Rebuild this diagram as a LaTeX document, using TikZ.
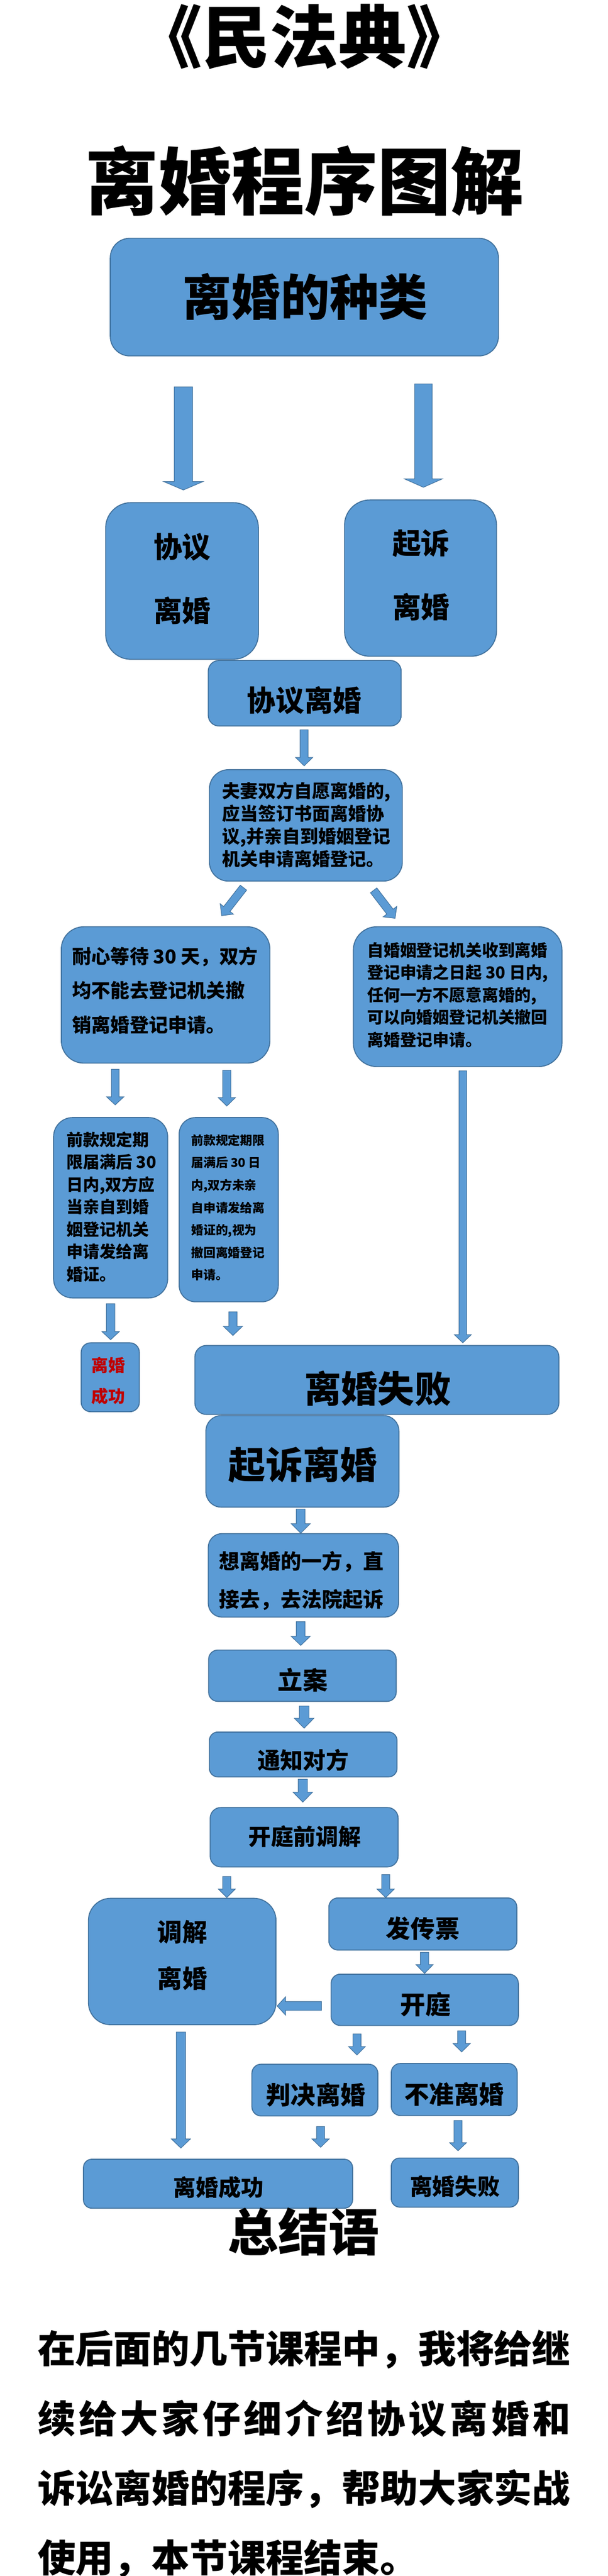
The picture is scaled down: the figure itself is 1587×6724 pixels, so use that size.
\documentclass[tikz,border=0pt]{standalone}
\usepackage{fontspec}
\setmainfont{Noto Sans CJK SC}
\usepackage{tikz}
\usetikzlibrary{calc}
\definecolor{boxblue}{RGB}{91,155,213}
\definecolor{boxedge}{RGB}{65,113,156}
\definecolor{okred}{RGB}{192,0,0}

% block arrow: tail, tip, half shaft, half head, head length
\newcommand{\blockarrow}[5]{%
  \coordinate (ba) at ($(#2)!#5!(#1)$);
  \draw[flow] ($(#1)!#3!90:(#2)$) -- ($(ba)!#3!90:(#2)$) -- ($(ba)!#4!90:(#2)$) -- (#2)
    -- ($(ba)!#4!-90:(#2)$) -- ($(ba)!#3!-90:(#2)$) -- ($(#1)!#3!-90:(#2)$) -- cycle;
}

\begin{document}
\begin{tikzpicture}[x=1pt,y=1pt,yscale=-1,xscale=1,
  panel/.style={draw=boxedge, fill=boxblue, line width=2.5pt, inner sep=0pt},
  flow/.style={draw=boxedge, fill=boxblue, line width=1.5pt},
  txt/.style 2 args={inner sep=0pt, align=left, font={\fontsize{#1}{#2}\selectfont\bfseries}}]
\path[use as bounding box, fill=white] (0,0) rectangle (1587,6724);

%Rounded Rect [id:kinds]
\node[panel, rounded corners=51pt, minimum width=1014pt, minimum height=307pt] (kinds) at (795,775.5) {};
%Rounded Rect [id:agreeL]
\node[panel, rounded corners=66pt, minimum width=399pt, minimum height=409pt] (agreeL) at (475.5,1516.5) {};
%Rounded Rect [id:suitR]
\node[panel, rounded corners=66pt, minimum width=397pt, minimum height=408pt] (suitR) at (1098.5,1509) {};
%Rounded Rect [id:agree]
\node[panel, rounded corners=28pt, minimum width=504pt, minimum height=171pt] (agree) at (796,1809.5) {};
%Rounded Rect [id:couple]
\node[panel, rounded corners=50pt, minimum width=504pt, minimum height=291pt] (couple) at (799,2154.5) {};
%Rounded Rect [id:wait]
\node[panel, rounded corners=59pt, minimum width=545pt, minimum height=356pt] (wait) at (432.5,2597) {};
%Rounded Rect [id:withdraw]
\node[panel, rounded corners=61pt, minimum width=545pt, minimum height=365pt] (withdraw) at (1195.5,2601.5) {};
%Rounded Rect [id:expireL]
\node[panel, rounded corners=50pt, minimum width=298pt, minimum height=471pt] (expireL) at (289,3152.5) {};
%Rounded Rect [id:expireM]
\node[panel, rounded corners=43pt, minimum width=259pt, minimum height=481pt] (expireM) at (597.5,3157.5) {};
%Rounded Rect [id:okSmall]
\node[panel, rounded corners=25pt, minimum width=152pt, minimum height=180pt] (okSmall) at (288,3595) {};
%Rounded Rect [id:failBig]
\node[panel, rounded corners=30pt, minimum width=951pt, minimum height=180pt] (failBig) at (984.5,3602) {};
%Rounded Rect [id:suit]
\node[panel, rounded corners=40pt, minimum width=504pt, minimum height=239pt] (suit) at (790,3814.5) {};
%Rounded Rect [id:direct]
\node[panel, rounded corners=36pt, minimum width=497pt, minimum height=218pt] (direct) at (792.5,4112) {};
%Rounded Rect [id:file]
\node[panel, rounded corners=24pt, minimum width=490pt, minimum height=134pt] (file) at (790,4374) {};
%Rounded Rect [id:notify]
\node[panel, rounded corners=22pt, minimum width=490pt, minimum height=117pt] (notify) at (792,4579.5) {};
%Rounded Rect [id:premed]
\node[panel, rounded corners=28pt, minimum width=491pt, minimum height=155pt] (premed) at (794.5,4795.5) {};
%Rounded Rect [id:mediated]
\node[panel, rounded corners=58pt, minimum width=490pt, minimum height=330pt] (mediated) at (476,5120) {};
%Rounded Rect [id:summons]
\node[panel, rounded corners=24pt, minimum width=491pt, minimum height=136pt] (summons) at (1104.5,5022) {};
%Rounded Rect [id:trial]
\node[panel, rounded corners=24pt, minimum width=489pt, minimum height=134pt] (trial) at (1109.5,5220) {};
%Rounded Rect [id:granted]
\node[panel, rounded corners=24pt, minimum width=329pt, minimum height=135pt] (granted) at (822.5,5455.5) {};
%Rounded Rect [id:denied]
\node[panel, rounded corners=24pt, minimum width=329pt, minimum height=136pt] (denied) at (1186.5,5454) {};
%Rounded Rect [id:okWide]
\node[panel, rounded corners=22pt, minimum width=703pt, minimum height=128pt] (okWide) at (569.5,5700) {};
%Rounded Rect [id:failSmall]
\node[panel, rounded corners=22pt, minimum width=332pt, minimum height=128pt] (failSmall) at (1188,5697) {};


%Block Arrows
\coordinate (a1s) at (479,1010); \coordinate (a1e) at (479,1279);
\blockarrow{a1s}{a1e}{24pt}{51.5pt}{22pt}
\coordinate (a2s) at (1106,1002); \coordinate (a2e) at (1106,1272);
\blockarrow{a2s}{a2e}{23pt}{49.5pt}{22pt}
\coordinate (a3s) at (794.5,1905); \coordinate (a3e) at (794.5,1999);
\blockarrow{a3s}{a3e}{10.5pt}{22.5pt}{22pt}
\coordinate (a4s) at (636,2317); \coordinate (a4e) at (579,2390);
\blockarrow{a4s}{a4e}{10.5pt}{22pt}{22pt}
\coordinate (a5s) at (976,2324); \coordinate (a5e) at (1032,2397);
\blockarrow{a5s}{a5e}{10.5pt}{22.5pt}{22pt}
\coordinate (a6s) at (301,2791); \coordinate (a6e) at (301,2884);
\blockarrow{a6s}{a6e}{10pt}{22.5pt}{21pt}
\coordinate (a7s) at (592.5,2794); \coordinate (a7e) at (592.5,2887);
\blockarrow{a7s}{a7e}{10.5pt}{22.5pt}{22pt}
\coordinate (a8s) at (1209,2795); \coordinate (a8e) at (1209,3505);
\blockarrow{a8s}{a8e}{10pt}{22pt}{21pt}
\coordinate (a9s) at (289,3403); \coordinate (a9e) at (289,3497);
\blockarrow{a9s}{a9e}{11pt}{22.5pt}{21pt}
\coordinate (a10s) at (608.5,3424); \coordinate (a10e) at (608.5,3486);
\blockarrow{a10s}{a10e}{11pt}{25pt}{24pt}
\coordinate (a11s) at (785.5,3939); \coordinate (a11e) at (785.5,4002);
\blockarrow{a11s}{a11e}{11.5pt}{25pt}{25pt}
\coordinate (a12s) at (785.5,4233); \coordinate (a12e) at (785.5,4295);
\blockarrow{a12s}{a12e}{11.5pt}{25pt}{24pt}
\coordinate (a13s) at (794.5,4453); \coordinate (a13e) at (794.5,4511);
\blockarrow{a13s}{a13e}{12.5pt}{25.5pt}{26pt}
\coordinate (a14s) at (791,4644); \coordinate (a14e) at (791,4704);
\blockarrow{a14s}{a14e}{12pt}{25.5pt}{26pt}
\coordinate (a15s) at (592.5,4898); \coordinate (a15e) at (592.5,4953);
\blockarrow{a15s}{a15e}{10.5pt}{22pt}{22pt}
\coordinate (a16s) at (1007.5,4893); \coordinate (a16e) at (1007.5,4953);
\blockarrow{a16s}{a16e}{10.5pt}{22.5pt}{22pt}
\coordinate (a17s) at (1109,5096); \coordinate (a17e) at (1109,5151);
\blockarrow{a17s}{a17e}{11pt}{22.5pt}{23pt}
\coordinate (a18s) at (840,5236); \coordinate (a18e) at (724,5236);
\blockarrow{a18s}{a18e}{11.5pt}{24pt}{22pt}
\coordinate (a19s) at (472.5,5304); \coordinate (a19e) at (472.5,5607);
\blockarrow{a19s}{a19e}{12pt}{25pt}{24pt}
\coordinate (a20s) at (932.5,5309); \coordinate (a20e) at (932.5,5364);
\blockarrow{a20s}{a20e}{10.5pt}{22pt}{22pt}
\coordinate (a21s) at (1206,5301); \coordinate (a21e) at (1206,5356);
\blockarrow{a21s}{a21e}{10.5pt}{22.5pt}{22pt}
\coordinate (a22s) at (837.5,5551); \coordinate (a22e) at (837.5,5605);
\blockarrow{a22s}{a22e}{10.5pt}{22.5pt}{22pt}
\coordinate (a23s) at (1196.5,5535); \coordinate (a23e) at (1196.5,5614);
\blockarrow{a23s}{a23e}{10.5pt}{22pt}{21pt}


% Text Node
\node[txt={178}{200}] (title) at (795,96) {《民法典》};
% Text Node
\node[txt={191}{220}] (heading) at (796,472) {离婚程序图解};
% Text Node
\node[txt={128}{150}] (kindsT) at (797,775) {离婚的种类};
% Text Node
\node[txt={75}{167}, align=center] (agreeLT) at (476,1510.5) {协议\\离婚};
% Text Node
\node[txt={75}{167}, align=center] (suitRT) at (1100,1501.5) {起诉\\离婚};
% Text Node
\node[txt={75}{90}] (agreeT) at (795,1828.5) {协议离婚};
% Text Node
\node[txt={47}{59}] (coupleT) at (800,2153) {夫妻双方自愿离婚的,\\应当签订书面离婚协\\议,并亲自到婚姻登记\\机关申请离婚登记。};
% Text Node
\node[txt={50}{89.5}] (waitT) at (431,2585) {耐心等待 30 天，双方\\均不能去登记机关撤\\销离婚登记申请。};
% Text Node
\node[txt={42.8}{58.6}] (withdrawT) at (1195.5,2597) {自婚姻登记机关收到离婚\\登记申请之日起 30 日内,\\任何一方不愿意离婚的,\\可以向婚姻登记机关撤回\\离婚登记申请。};
% Text Node
\node[txt={43}{58.4}] (expireLT) at (291,3150) {前款规定期\\限届满后 30\\日内,双方应\\当亲自到婚\\姻登记机关\\申请发给离\\婚证。};
% Text Node
\node[txt={32}{58.7}] (expireMT) at (595.5,3152) {前款规定期限\\届满后 30 日\\内,双方未亲\\自申请发给离\\婚证的,视为\\撤回离婚登记\\申请。};
% Text Node
\node[txt={44}{80}, align=center, text=okred] (okSmallT) at (283,3604) {离婚\\成功};
% Text Node
\node[txt={96}{110}] (failBigT) at (987,3624.5) {离婚失败};
% Text Node
\node[txt={97}{110}] (suitT) at (791,3823.5) {起诉离婚};
% Text Node
\node[txt={53.7}{100.5}] (directT) at (787,4126) {想离婚的一方，直\\接去，去法院起诉};
% Text Node
\node[txt={65}{75}] (fileT) at (791,4385) {立案};
% Text Node
\node[txt={59.5}{70}] (notifyT) at (792,4595) {通知对方};
% Text Node
\node[txt={59}{70}] (premedT) at (796,4793.5) {开庭前调解};
% Text Node
\node[txt={65}{121}, align=center] (mediatedT) at (476.5,5104) {调解\\离婚};
% Text Node
\node[txt={64}{75}] (summonsT) at (1104.5,5034.5) {发传票};
% Text Node
\node[txt={66}{75}] (trialT) at (1111,5232) {开庭};
% Text Node
\node[txt={65}{75}] (grantedT) at (824.5,5468) {判决离婚};
% Text Node
\node[txt={65}{75}] (deniedT) at (1186.5,5466) {不准离婚};
% Text Node
\node[txt={59}{70}] (okWideT) at (570.5,5710) {离婚成功};
% Text Node
\node[txt={59}{70}] (failSmallT) at (1188.5,5707) {离婚失败};
% Text Node
\node[txt={132}{150}] (summ) at (793,5825) {总结语};
% Text Node
\node[txt={99.4}{182}, anchor=west] (para) at (98,6406) {在后面的几节课程中，我将给继\\\makebox[1392pt][l]{续\hfill 给\hfill 大\hfill 家\hfill 仔\hfill 细\hfill 介\hfill 绍\hfill 协\hfill 议\hfill 离\hfill 婚\hfill 和}\\诉讼离婚的程序，帮助大家实战\\使用，本节课程结束。};

\end{tikzpicture}
\end{document}
